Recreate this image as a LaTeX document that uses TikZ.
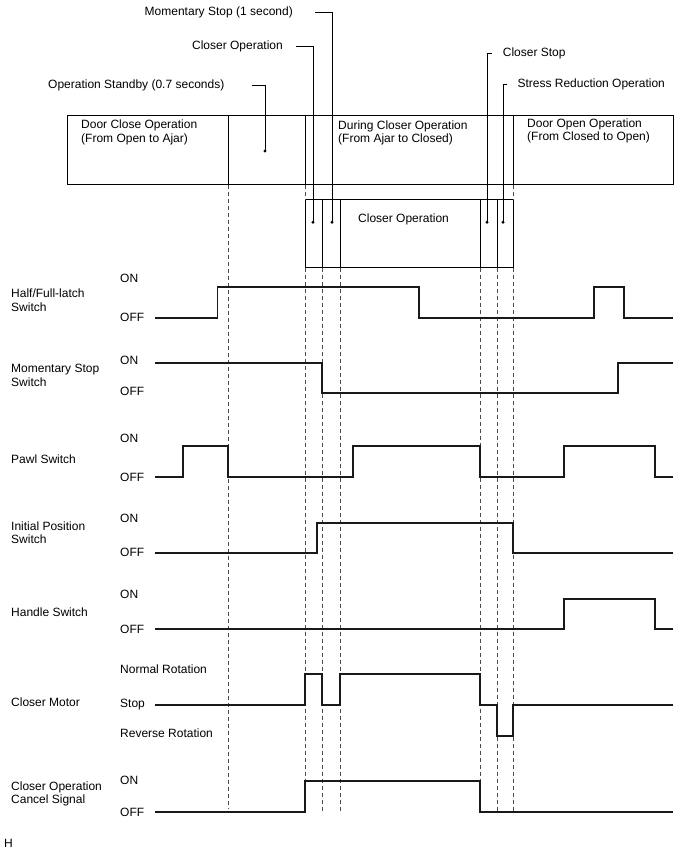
\documentclass[tikz,border=0pt]{standalone}
\usepackage{fontspec}
\setmainfont{Liberation Sans}
\usepackage{tikz}
\usetikzlibrary{positioning, calc}

\begin{document}
\begin{tikzpicture}[
    x=1pt, y=-1pt,
    txt/.style={inner sep=0pt, anchor=base west, align=left, font=\fontsize{12}{13.5}\selectfont},
    lvl/.style={txt},
    box/.style={draw, line width=0.8pt},
    leader/.style={draw, line width=0.8pt},
    guide/.style={black!70, line width=0.6pt, dash pattern=on 4pt off 3pt},
    sig/.style={line width=1.7pt, black!90, line join=miter},
    pin/.style={circle, fill, inner sep=0pt, minimum size=3.2pt},
]
\useasboundingbox (0,0) rectangle (688,852);

% --- Phase boxes ---
\draw[box] (67,115.5) rectangle (673,184.5);
\foreach \x in {228,305,513} \draw[box] (\x,115.5) -- (\x,184.5);
\node[txt] (dclose) at (81,142.3) {Door Close Operation\\(From Open to Ajar)};
\node[txt] (dduring) at (338,142.8) {During Closer Operation\\(From Ajar to Closed)};
\node[txt] (dopen) at (527,140.5) {Door Open Operation\\(From Closed to Open)};

\draw[box] (305,199.6) rectangle (513,267.7);
\foreach \x in {322,340,480,497} \draw[box] (\x,199.6) -- (\x,267.7);
\node[txt] (cop) at (358,222) {Closer Operation};

% --- Dots and leaders ---
\node[pin] (osdot) at (265,151) {};
\node[pin] (codot) at (313,222.3) {};
\node[pin] (msdot) at (332,222.3) {};
\node[pin] (csdot) at (487,222.3) {};
\node[pin] (srdot) at (503,222.3) {};

\node[txt, anchor=base east] (mslbl) at (293,15.3) {Momentary Stop (1 second)};
\node[txt, anchor=base east] (colbl) at (283,49.3) {Closer Operation};
\node[txt] (oslbl) at (48,88.6) {Operation Standby (0.7 seconds)};
\node[txt] (cslbl) at (502.7,56.6) {Closer Stop};
\node[txt] (srlbl) at (517.3,87) {Stress Reduction Operation};

\draw[leader] ([xshift=22pt]mslbl.east) -| (msdot.center);
\draw[leader] ([xshift=13pt]colbl.east) -| (codot.center);
\draw[leader] ([xshift=27pt]oslbl.east) -| (osdot.center);
\draw[leader] ([xshift=-11pt]cslbl.west) -| (csdot.center);
\draw[leader] ([xshift=-10pt]srlbl.west) -| (srdot.center);

% --- Timing guides ---
\draw[guide] (228,184.5) -- (228,808);
\foreach \x in {305,513} {
  \draw[guide] (\x,184.5) -- (\x,199.6);
  \draw[guide] (\x,267.7) -- (\x,812);
}
\foreach \x in {322,340,480,497} \draw[guide] (\x,267.7) -- (\x,812);

% --- Signal names ---
\node[txt] (hfname) at (11,311) {Half/Full-latch\\Switch};
\node[txt] (msname) at (11,386) {Momentary Stop\\Switch};
\node[txt] (pwname) at (11,463.3) {Pawl Switch};
\node[txt] (ipname) at (11,543.6) {Initial Position\\Switch};
\node[txt] (hsname) at (11,616) {Handle Switch};
\node[txt] (cmname) at (11,706) {Closer Motor};
\node[txt] (ccname) at (11,803.6) {Closer Operation\\Cancel Signal};

% --- Levels ---
\node[lvl] (hfon) at (120,282.6) {ON};
\node[lvl] (hfoff) at (120,321) {OFF};
\node[lvl] (mson) at (120,364.3) {ON};
\node[lvl] (msoff) at (120,395.3) {OFF};
\node[lvl] (pwon) at (120,442.6) {ON};
\node[lvl] (pwoff) at (120,481) {OFF};
\node[lvl] (ipon) at (120,522.6) {ON};
\node[lvl] (ipoff) at (120,556.6) {OFF};
\node[lvl] (hson) at (120,598.6) {ON};
\node[lvl] (hsoff) at (120,633.6) {OFF};
\node[lvl] (cmnorm) at (120,673.3) {Normal Rotation};
\node[lvl] (cmstop) at (120,707.6) {Stop};
\node[lvl] (cmrev) at (120,737) {Reverse Rotation};
\node[lvl] (ccon) at (120,784.3) {ON};
\node[lvl] (ccoff) at (120,816.6) {OFF};

% --- Waveforms ---
\draw[sig] (155,317.7) -- (217.5,317.7) -- (217.5,286.7) -- (419,286.7) -- (419,317.7)
  -- (594,317.7) -- (594,286.7) -- (624,286.7) -- (624,317.7) -- (673,317.7);
\draw[sig] (155,362.7) -- (322,362.7) -- (322,393.3) -- (618,393.3) -- (618,362.7) -- (673,362.7);
\draw[sig] (155,477) -- (183,477) -- (183,446) -- (228,446) -- (228,477) -- (353,477)
  -- (353,446) -- (480,446) -- (480,477) -- (564,477) -- (564,446) -- (655,446)
  -- (655,477) -- (673,477);
\draw[sig] (155,553) -- (317,553) -- (317,522.7) -- (513,522.7) -- (513,553) -- (673,553);
\draw[sig] (155,629.3) -- (564,629.3) -- (564,599) -- (655,599) -- (655,629.3) -- (673,629.3);
\draw[sig] (155,705) -- (305,705) -- (305,674.3) -- (322,674.3) -- (322,705) -- (340,705)
  -- (340,674.3) -- (480,674.3) -- (480,705) -- (497,705) -- (497,735.7) -- (513,735.7)
  -- (513,705) -- (673,705);
\draw[sig] (155,811.7) -- (305,811.7) -- (305,781) -- (480,781) -- (480,811.7) -- (673,811.7);

\node[txt] (fig) at (4,847.3) {H};
\end{tikzpicture}
\end{document}
